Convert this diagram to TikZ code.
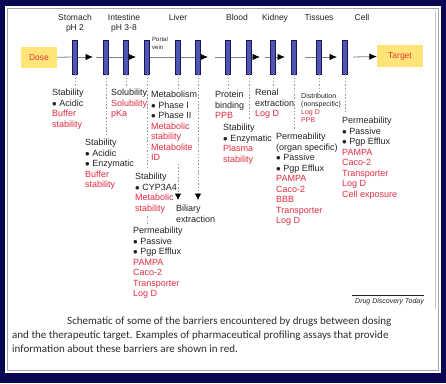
\documentclass[tikz,border=0pt]{standalone}
\usepackage{fontspec}
\setmainfont{Liberation Sans}
\newfontfamily\capfont{Carlito}
\usepackage{tikz}
\usetikzlibrary{calc, arrows, arrows.meta, shapes}
\tikzset{>={Latex[length=7.5pt,width=6.5pt,color=black]}}
\definecolor{navy}{RGB}{8,8,82}
\definecolor{assay}{RGB}{226,44,66}
\definecolor{barfill}{RGB}{78,88,178}
\definecolor{bardraw}{RGB}{22,22,88}
\definecolor{dosefill}{RGB}{255,228,120}
\definecolor{ink}{RGB}{35,35,35}
\newcommand{\as}[1]{\textcolor{assay}{#1}}
\tikzset{
  membrane/.style={draw=bardraw, fill=barfill, line width=0.7pt, minimum width=5.5pt, minimum height=34pt, inner sep=0pt},
  endbox/.style={fill=dosefill, minimum width=36pt, minimum height=21pt, inner sep=0pt, text=assay!85!orange, font=\fontsize{8.5}{10}\selectfont},
  organ/.style={anchor=north, align=center, inner sep=0pt, text=ink, font=\fontsize{8.5}{10}\selectfont},
  info/.style={anchor=north west, align=left, inner sep=0pt, text=ink, font=\fontsize{9}{10.5}\selectfont},
  flow/.style={draw=gray, line width=0.8pt},
  guide/.style={draw=gray!80, line width=0.6pt, dash pattern=on 1.5pt off 1.8pt},
  drop/.style={-{Latex[length=6.5pt,width=6.5pt,color=black]}}
}

\begin{document}
\begin{tikzpicture}[x=1pt, y=-1pt]
\fill[navy] (0,0) rectangle (446,383);
\fill[white] (5,6) rectangle (441,373);
\draw[gray!70, line width=1pt] (7.5,8.5) rectangle (438.5,370.5);
\draw[gray!45, line width=0.6pt] (435,11) -- (435,309);

\node[organ] (stomach) at (75,14) {Stomach\\pH 2};
\node[organ] (intestine) at (124,14) {Intestine\\pH 3-8};
\node[organ] (liver) at (178,14) {Liver};
\node[organ] (blood) at (237,14) {Blood};
\node[organ] (kidney) at (275,14) {Kidney};
\node[organ] (tissues) at (319,14) {Tissues};
\node[organ] (cell) at (362,14) {Cell};

\node[endbox] (dose) at (39,57.5) {Dose};
\node[endbox, minimum width=46pt, minimum height=22pt] (target) at (400,56) {Target};
\foreach \i/\x in {1/75,2/106,3/126,4/147,5/178,6/198,7/228,8/249,9/273,10/294,11/319,12/345}
  \node[membrane] (b\i) at (\x,57) {};
\node[anchor=north west, inner sep=0pt, align=left, text=ink, font=\fontsize{6}{7.5}\selectfont] (portal) at (152,37) {Portal\\vein};

\coordinate (t1) at (93,57);
\coordinate (s2) at (96,57);
\coordinate (t2) at (136,57);
\coordinate (t3) at (208,57);
\coordinate (s4) at (215,57);
\coordinate (t4) at (260,57);
\coordinate (s5) at (265,57);
\coordinate (t5) at (285,57);
\coordinate (s6) at (305,57);
\coordinate (t6) at (337,57);
\coordinate (s7) at (353,57);
\draw[flow] (dose) -- (b1);
\draw[flow, ->] (b1) -- (t1);
\draw[flow] (s2) -- (b2) (b2) -- (b3);
\draw[flow, ->] (b3) -- (t2);
\draw[flow] (b4) -- (b5) (b5) -- (b6);
\draw[flow, ->] (b6) -- (t3);
\draw[flow] (s4) -- (b7) (b7) -- (b8);
\draw[flow, ->] (b8) -- (t4);
\draw[flow] (s5) -- (b9);
\draw[flow, ->] (b9) -- (t5);
\draw[flow] (s6) -- (b11);
\draw[flow, ->] (b11) -- (t6);
\draw[flow, ->] (s7) -- (target);

\node[info] (stab1) at (52,89) {Stability\\ $\bullet$ Acidic\\ \as{Buffer}\\ \as{stability}};
\node[info] (sol) at (111,89) {Solubility\\ \as{Solubility}\\ \as{pKa}};
\node[info] (stab2) at (85,139) {Stability\\ $\bullet$ Acidic\\ $\bullet$ Enzymatic\\ \as{Buffer}\\ \as{stability}};
\node[info] (metab) at (151,91) {Metabolism\\ $\bullet$ Phase I\\ $\bullet$ Phase II\\ \as{Metabolic}\\ \as{stability}\\ \as{Metabolite}\\ \as{ID}};
\node[info] (cyp) at (135,173) {Stability\\ $\bullet$ CYP3A4\\ \as{Metabolic}\\ \as{stability}};
\node[info] (bile) at (176,205) {Biliary\\ extraction};
\node[info] (perml) at (133,227) {Permeability\\ $\bullet$ Passive\\ $\bullet$ Pgp Efflux\\ \as{PAMPA}\\ \as{Caco-2}\\ \as{Transporter}\\ \as{Log D}};
\node[info] (protein) at (215,91) {Protein\\ binding\\ \as{PPB}};
\node[info] (plasma) at (223,124) {Stability\\ $\bullet$ Enzymatic\\ \as{Plasma}\\ \as{stability}};
\node[info] (renal) at (255,89) {Renal\\ extraction\\ \as{Log D}};
\node[info, font=\fontsize{7}{8}\selectfont] (dist) at (301,93) {Distribution\\ (nonspecific)\\ \as{Log D}\\ \as{PPB}};
\node[info] (permo) at (276,133) {Permeability\\ (organ specific)\\ $\bullet$ Passive\\ $\bullet$ Pgp Efflux\\ \as{PAMPA}\\ \as{Caco-2}\\ \as{BBB}\\ \as{Transporter}\\ \as{Log D}};
\node[info] (permc) at (342,117) {Permeability\\ $\bullet$ Passive\\ $\bullet$ Pgp Efflux\\ \as{PAMPA}\\ \as{Caco-2}\\ \as{Transporter}\\ \as{Log D}\\ \as{Cell exposure}};

\draw[guide, shorten >=2pt] (b1) -- (b1 |- stab1.north);
\draw[guide, shorten >=4pt] (b2) -- (b2 |- stab2.north);
\draw[guide, shorten >=2pt] (b3) -- (b3 |- sol.north);
\draw[guide, shorten >=5pt] (b4) -- (b4 |- cyp.north);
\draw[guide, shorten >=2pt] (b5) -- (b5 |- metab.north);
\draw[guide, drop, shorten <=3pt, shorten >=5pt] (b5 |- metab.south) -- (b5 |- bile.north);
\draw[guide, drop, shorten >=5pt] (b6) -- (b6 |- bile.north);
\draw[guide, shorten >=2pt] (b7) -- (b7 |- protein.north);
\draw[guide, shorten >=5pt] (b8) -- (b8 |- plasma.north);
\draw[guide, shorten >=2pt] (b9) -- (b9 |- renal.north);
\draw[guide, shorten >=4pt] (b10) -- (b10 |- permo.north);
\draw[guide, shorten >=2pt] (b11) -- (b11 |- dist.north);
\draw[guide, shorten >=4pt] (b12) -- (b12 |- permc.north);
\draw[guide, shorten <=3pt, shorten >=2pt] (b4 |- cyp.south) -- (b4 |- perml.north);

\node[anchor=east, inner sep=0pt, text=ink, font=\itshape\fontsize{7}{8}\selectfont] (ddt) at (424,302) {Drug Discovery Today};
\draw[ink, line width=0.6pt] ([yshift=3pt]ddt.north west) ++(-3,0) -- ([yshift=3pt]ddt.north east);

\node[anchor=north west, inner sep=0pt, align=left, text=ink!90!gray, font=\capfont\fontsize{11}{14}\selectfont] (caption) at (12,317) {\hspace*{55pt}Schematic of some of the barriers encountered by drugs between dosing\\and the therapeutic target. Examples of pharmaceutical profiling assays that provide\\information about these barriers are shown in red.};
\end{tikzpicture}
\end{document}
